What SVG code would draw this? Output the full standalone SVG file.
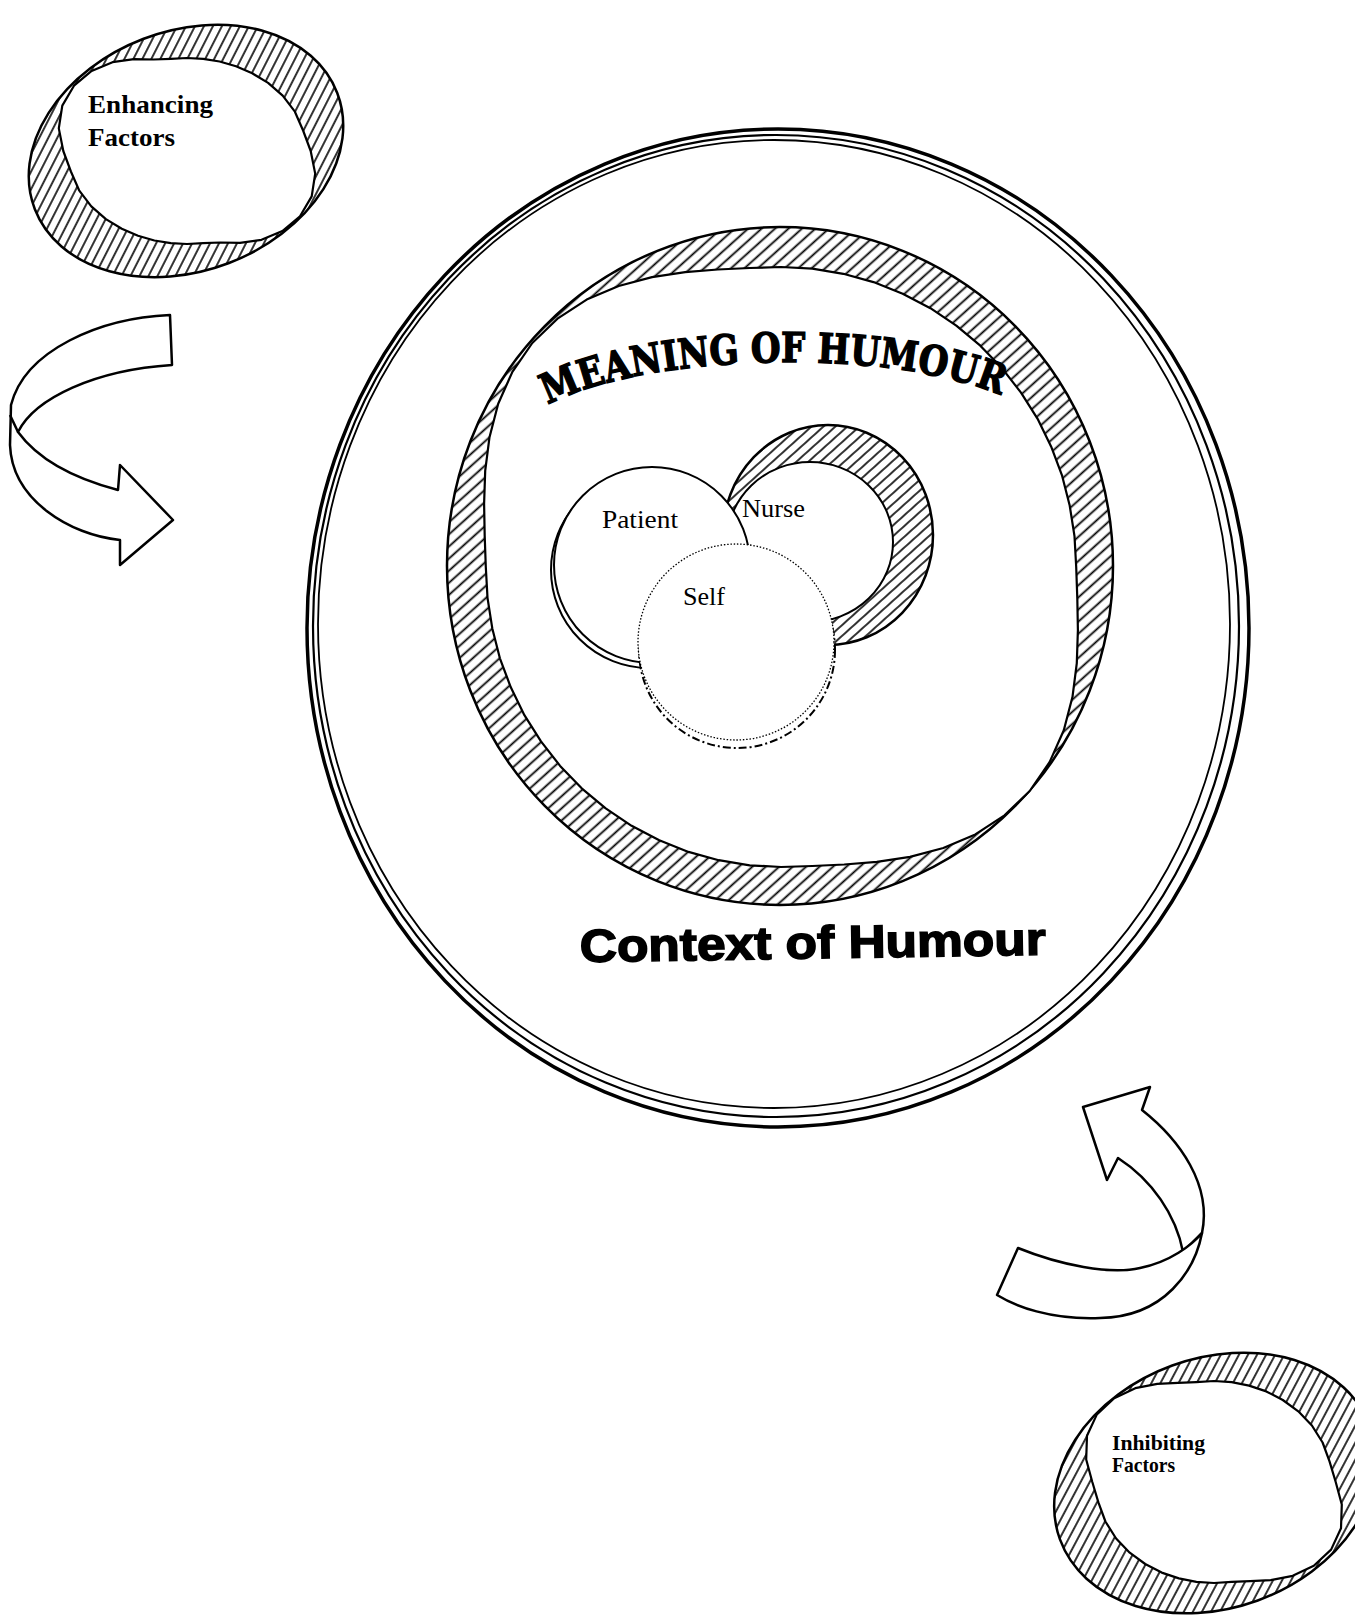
<svg xmlns="http://www.w3.org/2000/svg" width="1355" height="1616" viewBox="0 0 1355 1616">
<defs>
<pattern id="hatch" width="9" height="10" patternUnits="userSpaceOnUse" patternTransform="rotate(48)">
<rect width="9" height="10" fill="#fff"/>
<line x1="4.5" y1="-1" x2="4.5" y2="11" stroke="#000" stroke-width="1.8"/>
</pattern>
<pattern id="hatchS" width="8" height="10" patternUnits="userSpaceOnUse" patternTransform="rotate(48)">
<rect width="8" height="10" fill="#fff"/>
<line x1="4" y1="-1" x2="4" y2="11" stroke="#000" stroke-width="1.6"/>
</pattern>
</defs>
<style>
.ring{stroke:#000;stroke-width:2.5}
.hole{fill:#fff;stroke:#000;stroke-width:2.2;stroke-linejoin:round}
.ctx{fill:none;stroke:#000}
.arrow{fill:#fff;stroke:#000;stroke-width:2.5;stroke-linejoin:round}
.lbl{font-family:"Liberation Serif","Times New Roman",serif;font-weight:bold;fill:#000}
.nm{font-family:"Liberation Serif","Times New Roman",serif;font-size:25px;fill:#000}
</style>
<rect width="1355" height="1616" fill="#fff"/>

<g id="context">
<ellipse class="ctx" cx="778" cy="628" rx="471" ry="499" stroke-width="3.5"/>
<ellipse class="ctx" cx="776" cy="626" rx="463" ry="491" stroke-width="2.2"/>
<ellipse class="ctx" cx="774" cy="624" rx="456" ry="484" stroke-width="1.8"/>
<text x="580" y="962" transform="rotate(-0.9 580 962)" font-family="'Liberation Sans',Arial,sans-serif" font-weight="bold" font-size="46" stroke="#000" stroke-width="1.6" textLength="466" lengthAdjust="spacingAndGlyphs">Context of Humour</text>
</g>

<g id="meaning">
<ellipse class="ring" cx="780" cy="566" rx="333" ry="339" fill="url(#hatch)"/>
<polygon class="hole" points="1076.2,567 1077.3,598.1 1077.9,630.1 1076.8,663.1 1072.5,696.8 1063.8,730.3 1049.6,762.1 1029.7,791 1004.5,815.3 975.3,834.4 943.3,848 910,856.9 876.8,861.9 844.2,864.5 812.4,866 781,867 749.7,865.3 718.7,860.2 688.5,851.9 659.3,840.3 631.6,825.8 605.7,808.3 581.7,788.3 560.1,765.9 541,741.4 524.4,715.2 510.8,687.3 499.9,658.3 492.3,628.4 487.5,597.8 485.8,567 484.7,535.9 484.1,503.9 485.2,470.9 489.5,437.2 498.2,403.7 512.4,371.9 532.3,343 557.5,318.7 586.7,299.6 618.7,286 652,277.1 685.2,272.1 717.8,269.5 749.6,268 781,267 812.3,268.7 843.3,273.8 873.5,282.1 902.7,293.7 930.4,308.2 956.3,325.7 980.3,345.7 1001.9,368.1 1021,392.6 1037.6,418.8 1051.2,446.7 1062.1,475.7 1069.7,505.6 1074.5,536.2"/>
<path id="arcM" d="M548,405 C640,355 880,345 1000,395" fill="none"/>
<text font-family="'DejaVu Serif','Liberation Serif',serif" font-weight="bold" font-size="41" fill="#000" stroke="#000" stroke-width="1.5"><textPath href="#arcM" textLength="462" lengthAdjust="spacingAndGlyphs">MEANING OF HUMOUR</textPath></text>
</g>

<g id="nurse">
<ellipse class="ring" cx="828" cy="535" rx="105" ry="110" fill="url(#hatchS)"/>
<ellipse cx="810" cy="542" rx="83" ry="80" fill="#fff" stroke="#000" stroke-width="2"/>
</g>

<g id="patient">
<circle cx="649" cy="570" r="98" fill="#fff" stroke="#000" stroke-width="2"/>
<circle cx="652" cy="565" r="98" fill="#fff" stroke="#000" stroke-width="2"/>
</g>

<g id="self">
<circle cx="737" cy="650" r="98" fill="#fff" stroke="#000" stroke-width="2" stroke-dasharray="8 3 2 3"/>
<circle cx="736" cy="642" r="98" fill="#fff" stroke="#000" stroke-width="1.3" stroke-dasharray="1.5 1.8"/>
</g>

<g id="labels-inner">
<text class="nm" x="602" y="528" textLength="76" lengthAdjust="spacingAndGlyphs">Patient</text>
<text class="nm" x="742" y="517" textLength="63" lengthAdjust="spacingAndGlyphs">Nurse</text>
<text class="nm" x="683" y="605" textLength="42" lengthAdjust="spacingAndGlyphs">Self</text>
</g>

<g id="enhancing">
<ellipse class="ring" cx="186" cy="151" rx="162" ry="120" transform="rotate(-21 186 151)" fill="url(#hatchS)"/>
<polygon class="hole" points="310.7,151 315.2,173.6 311.7,196.4 300,216.3 282.4,231.1 261.5,239.8 240,242.8 220.3,242.5 203.2,243.2 187,244 170.8,243.2 154.4,240.5 138,235.8 121.8,228.7 105.9,219.1 91.3,206.3 79.1,190.3 70.9,171.5 63.3,151 58.8,128.4 62.3,105.6 74,85.7 91.6,70.9 112.5,62.2 134,59.2 153.7,59.5 170.8,58.8 187,58 203.2,58.8 219.6,61.5 236,66.2 252.2,73.3 268.1,82.9 282.7,95.7 294.9,111.7 303.1,130.5"/>
<text class="lbl" x="88" y="113" font-size="26" textLength="125" lengthAdjust="spacingAndGlyphs">Enhancing</text>
<text class="lbl" x="88" y="146" font-size="26" textLength="87" lengthAdjust="spacingAndGlyphs">Factors</text>
</g>

<g id="inhibiting">
<ellipse class="ring" cx="1215" cy="1483" rx="165" ry="125" transform="rotate(-20 1215 1483)" fill="url(#hatchS)"/>
<polygon class="hole" points="1335.7,1482 1341.8,1504.5 1341,1528.2 1331.1,1549.6 1313.8,1565.8 1292.7,1575.8 1270.7,1580.2 1250.1,1581.1 1231.6,1581.9 1214,1583 1196.4,1581.9 1178.9,1578.4 1161.7,1572.6 1145.2,1564 1129.7,1552.7 1116.1,1538.5 1105.4,1521.5 1098.4,1502.4 1092.3,1482 1086.2,1459.5 1087,1435.8 1096.9,1414.4 1114.2,1398.2 1135.3,1388.2 1157.3,1383.8 1177.9,1382.9 1196.4,1382.1 1214,1381 1231.6,1382.1 1249.1,1385.6 1266.3,1391.4 1282.8,1400 1298.3,1411.3 1311.9,1425.5 1322.6,1442.5 1329.6,1461.6"/>
<text class="lbl" x="1112" y="1450" font-size="21" textLength="93" lengthAdjust="spacingAndGlyphs">Inhibiting</text>
<text class="lbl" x="1112" y="1472" font-size="21" textLength="63" lengthAdjust="spacingAndGlyphs">Factors</text>
</g>

<g id="connectors">
<g id="arrow-enhancing">
<path class="arrow" d="M170,315 C100,318 25,350 11,405 L10,445 C12,500 70,535 120,540 L120,565 L173,520 L120,465 L118,490 C80,480 40,462 18,432 C35,398 95,370 172,365 Z"/>
<path d="M10,415 L18,432" stroke="#000" stroke-width="2.5" fill="none"/>
</g>
<g id="arrow-inhibiting">
<path class="arrow" d="M1150,1087 L1142,1110 C1180,1140 1212,1185 1202,1233 L1183,1252 C1176,1215 1152,1180 1118,1158 L1107,1180 L1083,1107 Z"/>
<path class="arrow" d="M1018,1248 C1060,1265 1110,1275 1140,1268 C1170,1262 1192,1245 1202,1233 C1195,1270 1165,1317 1100,1318 C1050,1320 1015,1306 997,1295 Z"/>
</g>
</g>
</svg>
